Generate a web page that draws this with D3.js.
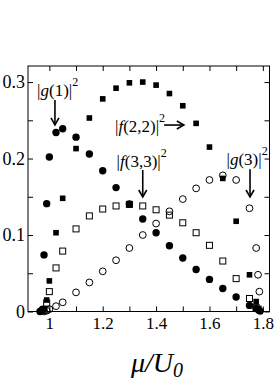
<!DOCTYPE html>
<html>
<head>
<meta charset="utf-8">
<script src="https://cdn.jsdelivr.net/npm/d3@7"></script>
<style>
  body { margin: 0; background: #fff; }
  svg { display: block; }
</style>
</head>
<body>
<svg id="chart"></svg>
<script>
// |g(1)|^2  filled circles
const g1X = [0.965, 0.97, 0.975, 0.98, 0.99, 1.0, 1.025, 1.05, 1.1, 1.15, 1.2, 1.25, 1.3, 1.35, 1.4, 1.45, 1.5, 1.55, 1.6, 1.65, 1.7, 1.75, 1.775, 1.785, 1.79];
const g1Y = [0, 0.001, 0.003, 0.074, 0.141, 0.202, 0.234, 0.239, 0.228, 0.206, 0.184, 0.162, 0.1405, 0.121, 0.103, 0.086, 0.070, 0.055, 0.042, 0.030, 0.019, 0.008, 0.004, 0.0015, 0.0005];
// |f(2,2)|^2  filled squares
const f22X = [0.975, 0.98, 0.99, 1.0, 1.025, 1.05, 1.1, 1.15, 1.2, 1.25, 1.3, 1.35, 1.4, 1.45, 1.5, 1.55, 1.6, 1.65, 1.7, 1.75, 1.775, 1.785];
const f22Y = [0.001, 0.003, 0.015, 0.04, 0.103, 0.148, 0.213, 0.253, 0.278, 0.292, 0.299, 0.300, 0.296, 0.285, 0.269, 0.246, 0.215, 0.174, 0.118, 0.048, 0.013, 0.004];
// |f(3,3)|^2  open squares
const f33X = [0.98, 0.99, 1.0, 1.025, 1.05, 1.1, 1.15, 1.2, 1.25, 1.3, 1.35, 1.4, 1.45, 1.5, 1.55, 1.6, 1.65, 1.7, 1.75, 1.775];
const f33Y = [0.002, 0.011, 0.026, 0.057, 0.079, 0.108, 0.125, 0.134, 0.138, 0.140, 0.138, 0.133, 0.126, 0.116, 0.103, 0.0865, 0.066, 0.043, 0.017, 0.005];
// |g(3)|^2  open circles
const g3X = [0.98, 0.99, 1.0, 1.025, 1.05, 1.1, 1.15, 1.2, 1.25, 1.3, 1.35, 1.4, 1.45, 1.5, 1.55, 1.6, 1.65, 1.7, 1.75, 1.775, 1.782, 1.787];
const g3Y = [0, 0.001, 0.003, 0.007, 0.012, 0.025, 0.038, 0.0525, 0.067, 0.083, 0.100, 0.115, 0.131, 0.147, 0.161, 0.172, 0.178, 0.172, 0.135, 0.083, 0.048, 0.026];

const xLabelTicks = [1, 1.2, 1.4, 1.6, 1.8];
const xAllTicks = [1, 1.1, 1.2, 1.3, 1.4, 1.5, 1.6, 1.7, 1.8];
const yLabelTicks = [0, 0.1, 0.2, 0.3];
const yAllTicks = [0, 0.05, 0.1, 0.15, 0.2, 0.25, 0.3];

// annotation texts with arrows, in data units
const labelName = ["g", "f", "f", "g"];
const labelArgs = ["(1)", "(2,2)", "(3,3)", "(3)"];
const labelPos = [[0.954, 0.2817], [1.246, 0.2346], [1.252, 0.1889], [1.664, 0.1915]];
const arrowFrom = [[1.021, 0.2765], [1.43, 0.2438], [1.35, 0.185], [1.752, 0.186]];
const arrowTo = [[1.021, 0.244], [1.504, 0.2438], [1.35, 0.1497], [1.752, 0.1497]];

const FONT = "'Liberation Serif', 'Times New Roman', Tinos, 'Nimbus Roman', 'DejaVu Serif', serif";
const W = 274, H = 388;
const svg = d3.select("#chart").attr("width", W).attr("height", H)
  .style("font-family", FONT);

const x = d3.scaleLinear().domain([0.92, 1.825]).range([28, 269.5]);
const y = d3.scaleLinear().domain([0, 0.321]).range([311.5, 66]);

// ticks (inward, all four sides)
const fmtX = d => xLabelTicks.includes(d) ? d3.format("")(d) : "";
const fmtY = d => yLabelTicks.includes(d) ? d3.format("")(d) : "";

const axBottom = svg.append("g").attr("transform", `translate(0,${y(0)})`)
  .call(d3.axisBottom(x).tickValues(xAllTicks).tickSize(-5).tickPadding(5).tickFormat(fmtX));
const axTop = svg.append("g").attr("transform", `translate(0,${y.range()[1]})`)
  .call(d3.axisTop(x).tickValues(xAllTicks).tickSize(-5).tickFormat(""));
const axLeft = svg.append("g").attr("transform", `translate(${x.range()[0]},0)`)
  .call(d3.axisLeft(y).tickValues(yAllTicks).tickSize(-5).tickPadding(3).tickFormat(fmtY));
const axRight = svg.append("g").attr("transform", `translate(${x.range()[1]},0)`)
  .call(d3.axisRight(y).tickValues(yAllTicks).tickSize(-5).tickFormat(""));

[axBottom, axTop, axLeft, axRight].forEach(a => {
  a.attr("font-family", null).attr("font-size", null);
  a.select(".domain").remove();
  a.selectAll("line").attr("stroke", "#000").attr("stroke-width", 1);
  a.selectAll("text").style("font-family", FONT).attr("fill", "#000");
});
axBottom.selectAll("text").attr("font-size", 17);
axLeft.selectAll("text").attr("font-size", 18);

// frame
svg.append("rect")
  .attr("x", x.range()[0]).attr("y", y.range()[1])
  .attr("width", x.range()[1] - x.range()[0])
  .attr("height", y.range()[0] - y.range()[1])
  .attr("fill", "none").attr("stroke", "#000").attr("stroke-width", 1);

const pts = (xs, ys) => xs.map((v, i) => ({ x: v, y: ys[i] }));

// open circles
svg.append("g").selectAll("circle")
  .data(pts(g3X, g3Y)).join("circle")
  .attr("cx", d => x(d.x)).attr("cy", d => y(d.y)).attr("r", 3.4)
  .attr("fill", "none").attr("stroke", "#000").attr("stroke-width", 1);

// open squares
svg.append("g").selectAll("rect")
  .data(pts(f33X, f33Y)).join("rect")
  .attr("x", d => x(d.x) - 3).attr("y", d => y(d.y) - 3)
  .attr("width", 6).attr("height", 6)
  .attr("fill", "none").attr("stroke", "#000").attr("stroke-width", 1);

// filled squares
svg.append("g").selectAll("rect")
  .data(pts(f22X, f22Y)).join("rect")
  .attr("x", d => x(d.x) - 2.8).attr("y", d => y(d.y) - 2.8)
  .attr("width", 5.6).attr("height", 5.6)
  .attr("fill", "#000");

// filled circles
svg.append("g").selectAll("circle")
  .data(pts(g1X, g1Y)).join("circle")
  .attr("cx", d => x(d.x)).attr("cy", d => y(d.y)).attr("r", 3.7)
  .attr("fill", "#000");

// annotations
const ann = svg.append("g").style("font-family", FONT).attr("fill", "#000");
labelName.forEach((nm, i) => {
  const t = ann.append("text")
    .attr("x", x(labelPos[i][0])).attr("y", y(labelPos[i][1]))
    .attr("font-size", 17);
  t.append("tspan").text("|");
  t.append("tspan").attr("font-style", "italic").text(nm);
  t.append("tspan").text(labelArgs[i] + "|");
  t.append("tspan").attr("font-size", 12).attr("dy", -10).text("2");

  const x0 = x(arrowFrom[i][0]), y0 = y(arrowFrom[i][1]);
  const x1 = x(arrowTo[i][0]), y1 = y(arrowTo[i][1]);
  ann.append("line")
    .attr("x1", x0).attr("y1", y0).attr("x2", x1).attr("y2", y1)
    .attr("stroke", "#000").attr("stroke-width", 1.6);
  const ang = Math.atan2(y1 - y0, x1 - x0);
  const hl = 7, hw = 4;
  const bx = x1 - hl * Math.cos(ang), by = y1 - hl * Math.sin(ang);
  const px = -Math.sin(ang) * hw, py = Math.cos(ang) * hw;
  ann.append("path")
    .attr("d", `M${bx + px},${by + py}L${x1},${y1}L${bx - px},${by - py}`)
    .attr("fill", "none").attr("stroke", "#000").attr("stroke-width", 1.6);
});

// x axis title
const title = svg.append("text")
  .attr("x", 157).attr("y", 372)
  .attr("text-anchor", "middle")
  .style("font-family", FONT).attr("font-style", "italic")
  .attr("font-size", 28).attr("fill", "#000");
title.append("tspan").text("μ/U");
title.append("tspan").attr("font-size", 20).attr("dy", 5).text("0");
</script>
</body>
</html>
